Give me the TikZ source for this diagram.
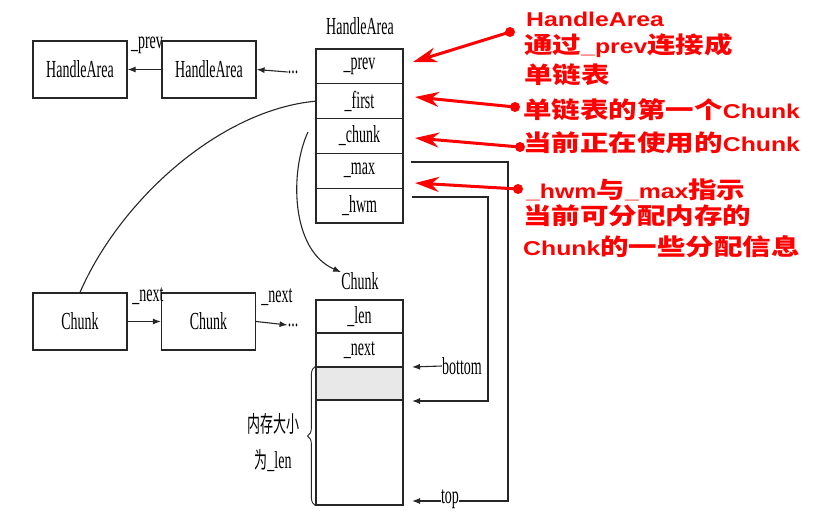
\documentclass[tikz,border=0pt]{standalone}
\usepackage{fontspec}
\setmainfont{Liberation Serif}
\newfontfamily\redlat{Liberation Sans}
\newfontfamily\cjk{Noto Sans CJK SC}
\usetikzlibrary{arrows.meta,decorations.pathreplacing}
\newcommand\tl[1]{\scalebox{1}[1.75]{#1}}
\newcommand\rc[1]{{\cjk\bfseries\fontsize{23}{26}\selectfont #1}}
\newcommand\rl[1]{{\redlat\bfseries\fontsize{20}{24}\selectfont #1}}
\newcommand\rline[1]{\scalebox{1.24}[1]{#1}}
\begin{document}
\begin{tikzpicture}[x=1pt,y=-1pt,
 cell/.style={draw=black!85, line width=1.2pt, minimum width=87pt, minimum height=34.8pt, inner sep=0pt, font=\fontsize{14}{16}\selectfont},
 box/.style={draw=black!85, line width=1.2pt, minimum width=94pt, minimum height=57pt, inner sep=0pt, font=\fontsize{14}{16}\selectfont},
 lbl/.style={inner sep=0pt, font=\fontsize{14}{16}\selectfont},
 arr/.style={-{Latex[length=8pt,width=6pt]}, line width=1.1pt, black!85},
 wire/.style={line width=1.1pt, black!85},
 redarr/.style={red, line width=3pt, -{Stealth[length=24pt,width=15pt]}},
 reddot/.style={circle, fill=red, minimum size=10pt, inner sep=0pt},
 redtxt/.style={red, anchor=west, inner sep=0pt}
]
\useasboundingbox (0,0) rectangle (814,528);
% HandleArea struct
\node[lbl] (halbl) at (360,26) {\tl{HandleArea}};
\node[cell] (hprev) at (359.5,66.4) {\tl{\_prev}};
\node[cell] (hfirst) at (359.5,101.2) {\tl{\_first}};
\node[cell] (hchunk) at (359.5,136) {\tl{\_chunk}};
\node[cell] (hmax) at (359.5,170.8) {\tl{\_max}};
\node[cell] (hhwm) at (359.5,205.6) {\tl{\_hwm}};
% left HandleArea chain
\node[box] (ha1) at (80,69.5) {\tl{HandleArea}};
\node[box] (ha2) at (209,69.5) {\tl{HandleArea}};
\node[lbl] (prevlbl) at (147,45) {\tl{\_prev}};
\node[lbl] (dots1) at (293,72) {\tl{...}};
\draw[arr] (ha2.west) -- (ha1.east);
\draw[arr] (dots1.west) -- (ha2.east);
% Chunk chain
\node[box] (ch1) at (80,321.5) {\tl{Chunk}};
\node[box] (ch2) at (208.5,321.5) {\tl{Chunk}};
\node[lbl] (next1) at (148,296) {\tl{\_next}};
\node[lbl] (next2) at (277,297) {\tl{\_next}};
\node[lbl] (dots2) at (293,325) {\tl{...}};
\draw[arr] (ch1.east) -- (ch2.west);
\draw[arr] (ch2.east) -- (dots2.west);
% Chunk struct
\node[lbl] (chlbl) at (360,281) {\tl{Chunk}};
\node[cell, minimum height=33pt] (clen) at (359.5,316.5) {\tl{\_len}};
\node[cell, minimum height=34pt] (cnext) at (359.5,350) {\tl{\_next}};
\node[cell, minimum height=33pt, fill=black!9] (cgray) at (359.5,383.5) {};
\node[cell, minimum height=105pt] (cbody) at (359.5,452.5) {};
\draw[decorate, decoration={brace, amplitude=8pt}, line width=0.9pt, black!85] (cbody.south west) -- (cgray.north west);
\node[lbl, font=\fontsize{13}{16}\cjk] (mem1) at (273,424) {\tl{内存大小}};
\node[lbl] (mem2) at (273,461) {\tl{{\cjk\fontsize{13}{16}\selectfont 为}\_len}};
% curves
\draw[wire] (hfirst.west) .. controls (220,110) and (120,200) .. (ch1.north);
\coordinate (cstart) at (308,132);
\draw[arr] (cstart) .. controls (290,170) and (290,250) .. (chlbl.north west);
% bottom / top pointers
\node[lbl] (bottom) at (462,366) {\tl{bottom}};
\node[lbl] (top) at (450,499) {\tl{top}};
\coordinate (bt) at (412,367);
\coordinate (tt) at (412,501);
\draw[arr] (bottom.west) -- (bt);
\draw[arr] (top.west |- tt) -- (tt);
\coordinate (hw0) at (412,197);
\coordinate (hw1) at (488,197);
\coordinate (hw2) at (488,401);
\coordinate (hw3) at (412,401);
\draw[arr] (hw0) -- (hw1) -- (hw2) -- (hw3);
\coordinate (mx0) at (411,162);
\coordinate (mx1) at (508,162);
\coordinate (mx2) at (508,501);
\draw[wire] (mx0) -- (mx1) -- (mx2) -- (top.east |- mx2);
% red annotations
\node[redtxt] (r1) at (526,19) {\rline{\rl{HandleArea}}};
\node[redtxt] (r2) at (524,46) {\rline{\rc{通过}\rl{\_prev}\rc{连接成}}};
\node[redtxt] (r3) at (524,75) {\rline{\rc{单链表}}};
\node[redtxt] (r4) at (523,110) {\rline{\rc{单链表的第一个}\rl{Chunk}}};
\node[redtxt] (r5) at (523,142.5) {\rline{\rc{当前正在使用的}\rl{Chunk}}};
\node[redtxt] (r6) at (526,190) {\rline{\rl{\_hwm}\rc{与}\rl{\_max}\rc{指示}}};
\node[redtxt] (r7) at (523,216) {\rline{\rc{当前可分配内存的}}};
\node[redtxt] (r8) at (523,247) {\rline{\rl{Chunk}\rc{的一些分配信息}}};
\node[reddot] (d1) at (510,32) {};
\node[reddot] (d2) at (515,107) {};
\node[reddot] (d3) at (520,147) {};
\node[reddot] (d4) at (518,189) {};
\coordinate (t1) at (413,62);
\coordinate (t2) at (415,97);
\coordinate (t3) at (415,138);
\coordinate (t4) at (415,183);
\draw[redarr] (d1.center) -- (t1);
\draw[redarr] (d2.center) -- (t2);
\draw[redarr] (d3.center) -- (t3);
\draw[redarr] (d4.center) -- (t4);
\end{tikzpicture}
\end{document}
